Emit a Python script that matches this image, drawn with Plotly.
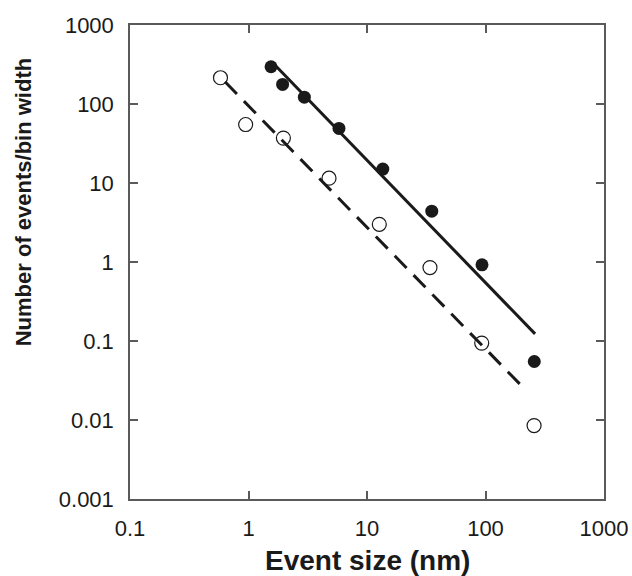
import plotly.graph_objects as go

# Data (log-log)
filled_x = [1.55, 1.94, 2.96, 5.8, 13.6, 35.2, 93.4, 258]
filled_y = [296, 177, 122, 49, 15, 4.4, 0.92, 0.055]
open_x = [0.58, 0.946, 1.97, 4.78, 12.7, 34, 92.9, 257]
open_y = [215, 55, 37, 11.5, 3.0, 0.85, 0.094, 0.0085]

# Power-law fit lines (end points)
fit_filled_x = [1.67, 262]
fit_filled_y = [312, 0.123]
fit_open_x = [0.634, 215]
fit_open_y = [191, 0.0245]

x_tickvals = [0.1, 1, 10, 100, 1000]
x_ticktext = ["0.1", "1", "10", "100", "1000"]
y_tickvals = [0.001, 0.01, 0.1, 1, 10, 100, 1000]
y_ticktext = ["0.001", "0.01", "0.1", "1", "10", "100", "1000"]

INK = "#1a1a1a"
AXIS = "#5a5a5a"
FONT = "Liberation Sans, Arial, Helvetica, sans-serif"

fig = go.Figure()
fig.add_trace(go.Scatter(x=fit_filled_x, y=fit_filled_y, mode="lines",
                         line=dict(color=INK, width=3), showlegend=False))
fig.add_trace(go.Scatter(x=fit_open_x, y=fit_open_y, mode="lines",
                         line=dict(color=INK, width=3, dash="17px,10px"), showlegend=False))
fig.add_trace(go.Scatter(x=filled_x, y=filled_y, mode="markers",
                         marker=dict(symbol="circle", size=13, color=INK,
                                     line=dict(width=0)), showlegend=False))
fig.add_trace(go.Scatter(x=open_x, y=open_y, mode="markers",
                         marker=dict(symbol="circle-open", size=14, color=INK,
                                     line=dict(width=1.2, color=INK)), showlegend=False))

axis_common = dict(
    type="log", showgrid=False, zeroline=False, showline=True, automargin=False,
    linecolor=AXIS, linewidth=1.5, mirror="ticks", ticks="inside",
    ticklen=8, tickwidth=1.5, tickcolor=AXIS,
    tickfont=dict(family=FONT, size=22, color=INK),
)

fig.update_xaxes(range=[-1, 3], tickvals=x_tickvals, ticktext=x_ticktext,
                 ticklabelstandoff=9, **axis_common)
fig.update_yaxes(range=[-3, 3], tickvals=y_tickvals, ticktext=y_ticktext,
                 ticklabelstandoff=10, **axis_common)

fig.add_annotation(text="<b>Event size (nm)</b>", xref="paper", yref="paper",
                   x=0.5, y=-0.129, showarrow=False, xanchor="center", yanchor="middle",
                   font=dict(family=FONT, size=28, color=INK))
fig.add_annotation(text="<b>Number of events/bin width</b>", xref="paper", yref="paper",
                   x=0, y=0.626, xshift=-107, showarrow=False, textangle=-90,
                   xanchor="center", yanchor="middle",
                   font=dict(family=FONT, size=22, color=INK))

fig.update_layout(
    width=632, height=576,
    margin=dict(l=130, r=28, t=25, b=77, autoexpand=False),
    paper_bgcolor="white", plot_bgcolor="white",
    showlegend=False,
)

# Remove the default page margin so the figure fills the window exactly.
fig.write_html("out.html", config={"displayModeBar": False},
               post_script="document.body.style.margin='0px';")
